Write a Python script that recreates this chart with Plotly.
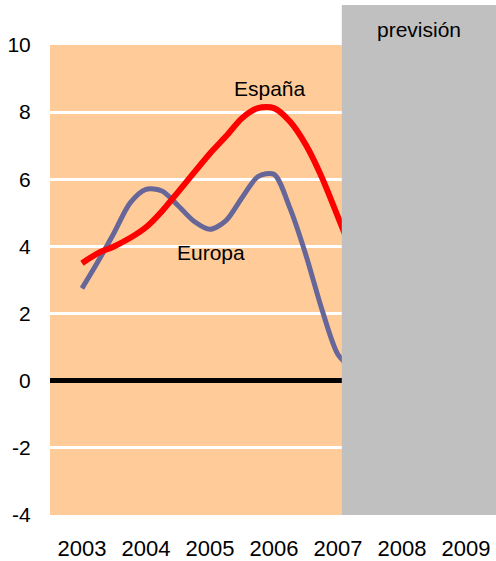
import plotly.graph_objects as go

# Quarterly positions (decimal years)
quarters = [2003.0, 2003.25, 2003.5, 2003.75, 2004.0, 2004.25, 2004.5, 2004.75,
            2005.0, 2005.25, 2005.5, 2005.75, 2006.0, 2006.25, 2006.5, 2006.75,
            2007.0, 2007.25]

espana = [3.5, 3.8, 4.0, 4.25, 4.57, 5.05, 5.62, 6.2,
          6.77, 7.28, 7.82, 8.12, 8.12, 7.72, 7.02, 6.05,
          4.88, 3.7]

europa = [2.75, 3.55, 4.4, 5.29, 5.7, 5.65, 5.22, 4.75,
          4.51, 4.77, 5.45, 6.08, 6.15, 5.14, 3.74, 2.12,
          0.78, 0.3]

years = [2003, 2004, 2005, 2006, 2007, 2008, 2009]
year_labels = [str(y) for y in years]
y_ticks = [-4, -2, 0, 2, 4, 6, 8, 10]
y_labels = [str(v) for v in y_ticks]

forecast_start = 2007.06
forecast_end = 2009.5

FONT = "Arial, 'Liberation Sans', sans-serif"

fig = go.Figure()

fig.add_trace(go.Scatter(
    x=quarters, y=europa, mode="lines", name="Europa",
    line=dict(color="#666699", width=5, shape="spline", smoothing=0.8),
))
fig.add_trace(go.Scatter(
    x=quarters, y=espana, mode="lines", name="España",
    line=dict(color="#FF0000", width=6, shape="spline", smoothing=0.8),
))

# Forecast band covering the last years
fig.add_shape(
    type="rect", xref="x", yref="paper",
    x0=forecast_start, x1=forecast_end, y0=0, y1=1.085,
    fillcolor="#C0C0C0", line=dict(width=0), layer="above",
)

fig.add_annotation(x=(forecast_start + 2009.47) / 2, y=1.034, xref="x", yref="paper",
                   yanchor="middle", text="previsión", showarrow=False,
                   font=dict(family=FONT, size=21, color="black"))
fig.add_annotation(x=2005.94, y=8.69, text="España", showarrow=False,
                   yanchor="middle",
                   font=dict(family=FONT, size=21, color="black"))
fig.add_annotation(x=2005.02, y=3.83, text="Europa", showarrow=False,
                   yanchor="middle",
                   font=dict(family=FONT, size=21, color="black"))

fig.update_layout(
    width=496, height=561,
    margin=dict(l=50, r=0, t=45, b=46),
    paper_bgcolor="white",
    plot_bgcolor="#FFCC99",
    showlegend=False,
    font=dict(family=FONT, size=21, color="black"),
)

fig.update_xaxes(
    range=[2002.5, 2009.47], automargin=False,
    tickvals=years, ticktext=year_labels,
    showgrid=False, zeroline=False, showline=False,
    ticks="outside", ticklen=14, tickcolor="rgba(0,0,0,0)",
    tickfont=dict(family=FONT, size=22, color="black"),
)
fig.update_yaxes(
    range=[-4, 10], automargin=False,
    tickvals=y_ticks, ticktext=y_labels,
    showgrid=True, gridcolor="white", gridwidth=3,
    zeroline=True, zerolinecolor="black", zerolinewidth=5,
    showline=False,
    ticks="outside", ticklen=14, tickcolor="rgba(0,0,0,0)",
    tickfont=dict(family=FONT, size=21, color="black"),
)

fig.write_html("out.html")
